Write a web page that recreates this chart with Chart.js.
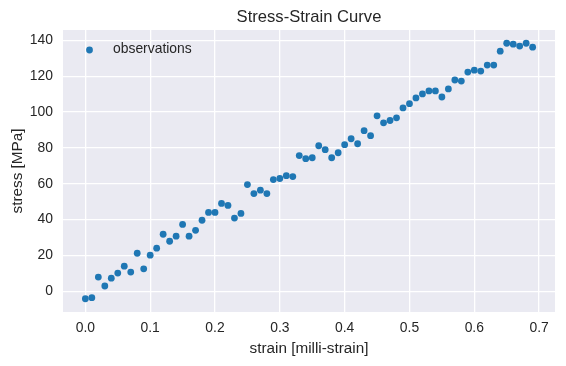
<!DOCTYPE html>
<html>
<head>
<meta charset="utf-8">
<script src="https://cdn.jsdelivr.net/npm/chart.js@4.4.0/dist/chart.umd.min.js"></script>
<style>
html,body{margin:0;padding:0;background:#fff;}
#wrap{width:566px;height:366px;}
</style>
</head>
<body>
<div id="wrap"><canvas id="c" width="566" height="366"></canvas></div>
<script>
const strain = [0.00,0.01,0.02,0.03,0.04,0.05,0.06,0.07,0.08,0.09,
  0.10,0.11,0.12,0.13,0.14,0.15,0.16,0.17,0.18,0.19,
  0.20,0.21,0.22,0.23,0.24,0.25,0.26,0.27,0.28,0.29,
  0.30,0.31,0.32,0.33,0.34,0.35,0.36,0.37,0.38,0.39,
  0.40,0.41,0.42,0.43,0.44,0.45,0.46,0.47,0.48,0.49,
  0.50,0.51,0.52,0.53,0.54,0.55,0.56,0.57,0.58,0.59,
  0.60,0.61,0.62,0.63,0.64,0.65,0.66,0.67,0.68,0.69];
const stress = [-4.2,-3.6,7.9,2.9,7.3,10.1,14.0,10.7,21.2,12.5,
  20.1,24.0,31.8,27.9,30.7,37.3,30.7,34.0,39.6,44.0,
  44.0,49.0,47.9,40.8,43.4,59.5,54.5,56.4,54.5,62.3,
  62.9,64.5,64.0,75.7,74.0,74.5,81.2,79.0,74.5,77.3,
  81.8,85.1,82.3,89.6,86.8,97.9,94.0,95.3,96.8,102.3,
  104.7,107.9,110.1,111.8,111.8,108.4,112.9,117.9,117.3,122.3,
  123.4,122.9,126.2,126.2,134.0,138.4,137.9,136.8,138.4,136.2];
const xTicks = [0.0,0.1,0.2,0.3,0.4,0.5,0.6,0.7];
const yTicks = [0,20,40,60,80,100,120,140];
const seriesLabel = 'observations';
const titleText = 'Stress-Strain Curve';
const xLabel = 'strain [milli-strain]';
const yLabel = 'stress [MPa]';

const FONT = "'Liberation Sans', Arial, sans-serif";
const TXT = '#262626';
const BLUE = '#1f77b4';

const bgPlugin = {
  id: 'bg',
  beforeDraw(chart) {
    const {ctx, chartArea: a} = chart;
    ctx.save();
    ctx.fillStyle = '#fff';
    ctx.fillRect(0, 0, chart.width, chart.height);
    ctx.fillStyle = '#EAEAF2';
    ctx.fillRect(a.left, a.top, a.right - a.left, a.bottom - a.top);
    ctx.restore();
  }
};
const titlePlugin = {
  id: 'axTitle',
  afterDraw(chart) {
    const {ctx, chartArea: a} = chart;
    ctx.save();
    ctx.fillStyle = TXT;
    ctx.font = '16.6px ' + FONT;
    ctx.textAlign = 'center';
    ctx.textBaseline = 'middle';
    ctx.fillText(titleText, (a.left + a.right) / 2, 17);
    ctx.restore();
  }
};
const legendPlugin = {
  id: 'innerLegend',
  afterDatasetsDraw(chart) {
    const {ctx, chartArea: a} = chart;
    const ds = chart.data.datasets[0];
    ctx.save();
    ctx.fillStyle = ds.backgroundColor;
    ctx.beginPath();
    ctx.arc(a.left + 26.5, a.top + 20, 3.4, 0, Math.PI * 2);
    ctx.fill();
    ctx.fillStyle = TXT;
    ctx.font = '13.9px ' + FONT;
    ctx.textBaseline = 'middle';
    ctx.fillText(ds.label, a.left + 50, a.top + 19.5);
    ctx.restore();
  }
};

new Chart(document.getElementById('c'), {
  type: 'scatter',
  data: {
    datasets: [{
      label: seriesLabel,
      data: strain.map((x, i) => ({x: x, y: stress[i]})),
      backgroundColor: BLUE,
      borderWidth: 0,
      pointRadius: 3.4,
      pointHoverRadius: 3.4
    }]
  },
  options: {
    responsive: false,
    animation: false,
    layout: {padding: {left: 0, right: 11, top: 30, bottom: 0}},
    plugins: {
      legend: {display: false},
      tooltip: {enabled: false},
      title: {display: false}
    },
    scales: {
      x: {
        type: 'linear',
        min: -0.0345,
        max: 0.7245,
        afterBuildTicks(s) { s.ticks = xTicks.map(v => ({value: v})); },
        afterFit(s) { s.height = 54; },
        grid: {color: '#ffffff', lineWidth: 1.3, drawTicks: false},
        border: {display: false},
        ticks: {
          color: TXT, padding: 8,
          font: {family: FONT, size: 13.9},
          callback: v => v.toFixed(1),
          maxRotation: 0
        },
        title: {
          display: true, text: xLabel, color: TXT,
          font: {family: FONT, size: 15.3},
          padding: {top: 0, bottom: 8}
        }
      },
      y: {
        type: 'linear',
        min: -11.6,
        max: 145.8,
        afterBuildTicks(s) { s.ticks = yTicks.map(v => ({value: v})); },
        afterFit(s) { s.width = 63; },
        grid: {color: '#ffffff', lineWidth: 1.3, drawTicks: false},
        border: {display: false},
        ticks: {
          color: TXT, padding: 10,
          font: {family: FONT, size: 13.9},
          callback: v => String(v)
        },
        title: {
          display: true, text: yLabel, color: TXT,
          font: {family: FONT, size: 15.3},
          padding: {top: 9, bottom: 0}
        }
      }
    }
  },
  plugins: [bgPlugin, titlePlugin, legendPlugin]
});
</script>
</body>
</html>
